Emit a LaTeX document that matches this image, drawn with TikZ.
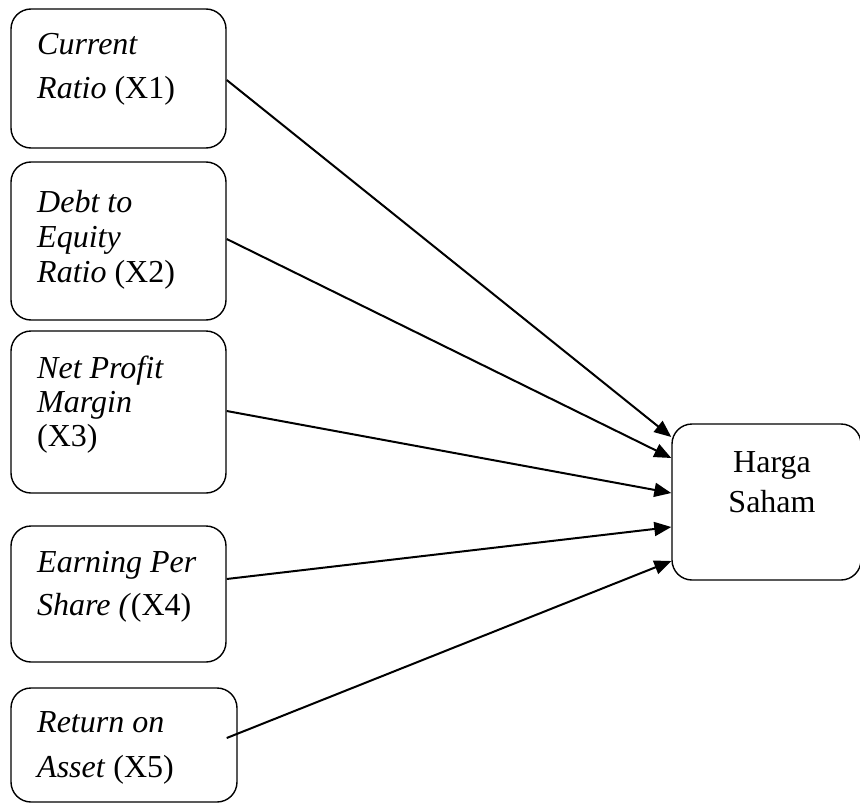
\documentclass[tikz,border=0pt]{standalone}
\usepackage{fontspec}
\setmainfont{Liberation Serif}
\usetikzlibrary{arrows.meta,calc}
\begin{document}
\begin{tikzpicture}[x=1pt,y=-1pt,
  box/.style={draw=black,line width=1.4pt,rounded corners=20pt,inner sep=0pt},
  lbl/.style={anchor=base west,inner sep=0pt,font=\fontsize{32}{35}\selectfont},
  clbl/.style={anchor=base,inner sep=0pt,font=\fontsize{32}{35}\selectfont},
  conn/.style={line width=2pt,-{Triangle[length=17pt,width=14pt]}}]
\useasboundingbox (0,0) rectangle (860,803);
% boxes
\node[box,minimum width=215pt,minimum height=139pt] (b1) at (118.5,78.5) {};
\node[box,minimum width=215pt,minimum height=158pt] (b2) at (118.5,241) {};
\node[box,minimum width=215pt,minimum height=162pt] (b3) at (118.5,412) {};
\node[box,minimum width=215pt,minimum height=136pt] (b4) at (118.5,594) {};
\node[box,minimum width=226pt,minimum height=114pt] (b5) at (124,745) {};
\node[box,minimum width=189pt,minimum height=156pt] (R) at (766.5,502) {};
% texts
\node[lbl] (t1a) at (37,54) {\textit{Current}};
\node[lbl] (t1b) at (37,98) {\textit{Ratio} (X1)};
\node[lbl] (t2a) at (37,212) {\textit{Debt to}};
\node[lbl] (t2b) at (37,247) {\textit{Equity}};
\node[lbl] (t2c) at (37,282) {\textit{Ratio} (X2)};
\node[lbl] (t3a) at (37,378) {\textit{Net Profit}};
\node[lbl] (t3b) at (37,412) {\textit{Margin}};
\node[lbl] (t3c) at (37,446) {(X3)};
\node[lbl] (t4a) at (37,572) {\textit{Earning Per}};
\node[lbl] (t4b) at (37,615) {\textit{Share (}(X4)};
\node[lbl] (t5a) at (37,732) {\textit{Return on}};
\node[lbl] (t5b) at (37,777) {\textit{Asset} (X5)};
\node[clbl] (tra) at (772,472) {Harga};
\node[clbl] (trb) at (772,512) {Saham};
% connectors
\draw[conn] ($(b1.east)+(0,1.5)$) -- ($(R.west)+(0,-65)$);
\draw[conn] ($(b2.east)+(0,-2)$) -- ($(R.west)+(0,-44)$);
\draw[conn] ($(b3.east)+(0,-1)$) -- ($(R.west)+(0,-9)$);
\draw[conn] ($(b4.east)+(0,-15)$) -- ($(R.west)+(0,25)$);
\draw[conn] ($(b5.east)+(-11,-7)$) -- ($(R.west)+(0,59)$);
\end{tikzpicture}
\end{document}
